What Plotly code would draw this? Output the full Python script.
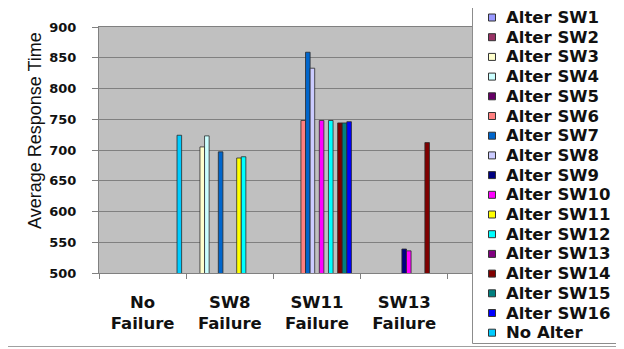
import plotly.graph_objects as go

# ---------------- data ----------------
categories = ["No<br>Failure", "SW8<br>Failure", "SW11<br>Failure", "SW13<br>Failure"]
series_names = ["Alter SW1", "Alter SW2", "Alter SW3", "Alter SW4", "Alter SW5",
                "Alter SW6", "Alter SW7", "Alter SW8", "Alter SW9", "Alter SW10",
                "Alter SW11", "Alter SW12", "Alter SW13", "Alter SW14", "Alter SW15",
                "Alter SW16", "No Alter"]

alter_sw1 = [None, None, None, None]
alter_sw2 = [None, None, None, None]
alter_sw3 = [None, 705, None, None]
alter_sw4 = [None, 723, None, None]
alter_sw5 = [None, None, None, None]
alter_sw6 = [None, None, 748, None]
alter_sw7 = [None, 697, 859, None]
alter_sw8 = [None, None, 833, None]
alter_sw9 = [None, None, None, 539]
alter_sw10 = [None, None, 748, 536]
alter_sw11 = [None, 687, None, None]
alter_sw12 = [None, 689, 748, None]
alter_sw13 = [None, None, None, None]
alter_sw14 = [None, None, 744, 712]
alter_sw15 = [None, None, 744, None]
alter_sw16 = [None, None, 746, None]
no_alter = [724, None, None, None]

y_ticks = [500, 550, 600, 650, 700, 750, 800, 850, 900]

series_values = [alter_sw1, alter_sw2, alter_sw3, alter_sw4, alter_sw5, alter_sw6,
                 alter_sw7, alter_sw8, alter_sw9, alter_sw10, alter_sw11, alter_sw12,
                 alter_sw13, alter_sw14, alter_sw15, alter_sw16, no_alter]

# ---------------- styles ----------------
colors = ["#9999FF", "#993366", "#FFFFCC", "#CCFFFF", "#660066", "#FF8080",
          "#0066CC", "#CCCCFF", "#000080", "#FF00FF", "#FFFF00", "#00FFFF",
          "#800080", "#800000", "#008080", "#0000FF", "#00CCFF"]

# page has an 8px body margin: the figure starts at page (8, 8)
OFF = 8
W, H = 624 - OFF, 349 - OFF
PL, PR, PT, PB = 99, 535, 27, 273          # plot area in page pixels
ML, MR, MT, MB = PL - OFF, W - (PR - OFF), PT - OFF, H - (PB - OFF)
PW = W - ML - MR
PH = H - MT - MB


def px2x(px):
    return (px - OFF - ML) / PW


def px2y(py):
    return (H - MB - (py - OFF)) / PH


fig = go.Figure()
for name, vals, col in zip(series_names, series_values, colors):
    fig.add_trace(go.Bar(
        x=categories, y=vals, name=name,
        marker=dict(color=col, line=dict(color="#2a2a2a", width=0.8)),
        showlegend=False,
    ))

shapes = []
annotations = []

# chart frame (bottom line visible)
shapes.append(dict(type="line", xref="paper", yref="paper",
                   x0=px2x(0), x1=px2x(700), y0=px2y(346.5), y1=px2y(346.5),
                   line=dict(color="#a0a0a0", width=1), layer="above"))

# legend box
shapes.append(dict(type="rect", xref="paper", yref="paper",
                   x0=px2x(472.5), x1=px2x(700), y0=px2y(343.5), y1=px2y(-10),
                   line=dict(color="#8c8c8c", width=1), fillcolor="white",
                   layer="above"))

LEG_FONT = dict(family="DejaVu Sans", size=16.5, color="#111111", weight="bold")
for i, (name, col) in enumerate(zip(series_names, colors)):
    cy = 17.5 + 19.7 * i
    shapes.append(dict(type="rect", xref="paper", yref="paper",
                       x0=px2x(488.5), x1=px2x(495.5), y0=px2y(cy + 3.5), y1=px2y(cy - 3.5),
                       line=dict(color="#333333", width=1), fillcolor=col, layer="above"))
    annotations.append(dict(xref="paper", yref="paper", x=px2x(505), y=px2y(cy),
                            xanchor="left", yanchor="middle", showarrow=False,
                            text=name, font=LEG_FONT, borderpad=0))

# y-axis title
annotations.append(dict(xref="paper", yref="paper", x=px2x(35), y=px2y(131),
                        xanchor="center", yanchor="middle", showarrow=False,
                        text="Average Response Time", textangle=-90,
                        font=dict(family="Liberation Sans", size=18, color="#111111")))

fig.update_layout(
    width=W, height=H,
    margin=dict(l=ML, r=MR, t=MT, b=MB, pad=0, autoexpand=False),
    paper_bgcolor="white",
    plot_bgcolor="#C0C0C0",
    barmode="group",
    bargap=0.105,
    bargroupgap=0,
    showlegend=False,
    shapes=shapes,
    annotations=annotations,
)

fig.update_xaxes(
    type="category",
    categoryorder="array", categoryarray=categories,
    range=[-0.5, 4.5],
    showline=True, linecolor="#808080", linewidth=1, mirror=True,
    ticks="outside", ticklen=5, tickcolor="#808080", tickson="boundaries",
    showgrid=False,
    tickfont=dict(family="DejaVu Sans", size=16.5, color="#111111", weight="bold"),
    ticklabelstandoff=14,
)

fig.update_yaxes(
    range=[500, 900],
    tickvals=y_ticks,
    showline=True, linecolor="#808080", linewidth=1,
    ticks="outside", ticklen=6, tickcolor="#808080",
    showgrid=True, gridcolor="#808080", gridwidth=1,
    zeroline=False,
    tickfont=dict(family="DejaVu Sans", size=13, color="#111111", weight="bold"),
    ticklabelstandoff=13,
)

fig.write_html("out.html")
